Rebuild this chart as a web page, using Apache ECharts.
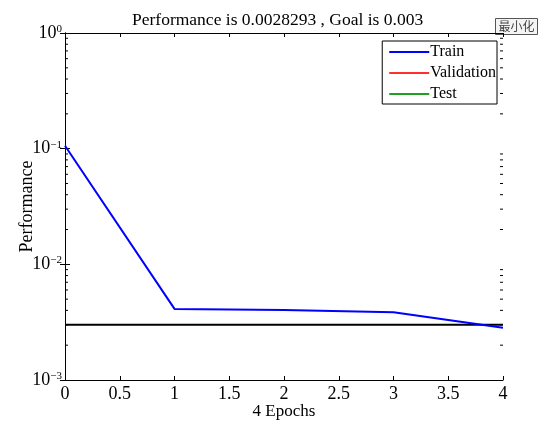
<!DOCTYPE html>
<html><head><meta charset="utf-8">
<script src="https://cdn.jsdelivr.net/npm/echarts@6/dist/echarts.min.js"></script>
<style>html,body{margin:0;padding:0;background:#fff}#c{width:549px;height:422px}</style>
</head><body><div id="c"></div>
<script>
const epochs = [0, 1, 2, 3, 4];
const trainPerf = [0.106, 0.00412, 0.00402, 0.00386, 0.0028293];
const goalValue = 0.003;
const goalX = [0, 4];
const xTickLabels = ['0','0.5','1','1.5','2','2.5','3','3.5','4'];
const legendNames = ['Train', 'Validation', 'Test'];
const titleText = 'Performance is 0.0028293 , Goal is 0.003';

const FONT = '"Liberation Serif", "Times New Roman", serif';
const chart = echarts.init(document.getElementById('c'), null, {renderer: 'canvas'});

const minorVals = [];
for (let e = -3; e < 0; e++) for (let m = 2; m <= 9; m++) minorVals.push(m * Math.pow(10, e));

const yLabelFmt = v => {
  const e = Math.round(Math.log10(v));
  return '{b|10}{s|' + (e === 0 ? '0' : '\u2212' + (-e)) + '}';
};
const yRich = {
  b: {fontFamily: FONT, fontSize: 18, color: '#000'},
  s: {fontFamily: FONT, fontSize: 11, color: '#000', verticalAlign: 'top', padding: [0,0,8,0]}
};
const legendColors = ['#0000ff', '#ff3030', '#20a020'];

chart.setOption({
  animation: false,
  title: {text: titleText, left: 127, top: 6,
    textStyle: {fontFamily: FONT, fontSize: 17.5, fontWeight: 'normal', color: '#000'}},
  legend: {
    data: legendNames.map((n, i) => ({name: n, icon: 'rect', itemStyle: {color: legendColors[i]}})),
    orient: 'vertical', right: 52, top: 41,
    itemWidth: 40, itemHeight: 2, itemGap: 5,
    borderColor: '#000', borderWidth: 1, backgroundColor: '#fff',
    padding: [3, 1, 2, 7],
    textStyle: {fontFamily: FONT, fontSize: 16, color: '#000', padding: [0,0,0,-4]}
  },
  grid: {left: 65, right: 46, top: 33, bottom: 42, outerBoundsMode: 'none', containLabel: false},
  xAxis: [{
    type: 'value', min: 0, max: 4, interval: 0.5,
    name: '4 Epochs', nameLocation: 'middle', nameGap: 23, nameMoveOverlap: false,
    nameTextStyle: {fontFamily: FONT, fontSize: 17, color: '#000'},
    axisLine: {lineStyle: {color: '#000', width: 1}},
    axisTick: {inside: true, length: 4, lineStyle: {color: '#000'}},
    axisLabel: {fontFamily: FONT, fontSize: 18, color: '#000', margin: 5,
      formatter: v => xTickLabels[Math.round(v * 2)]},
    splitLine: {show: false}
  }, {
    type: 'value', min: 0, max: 4, interval: 0.5, position: 'top',
    axisLine: {lineStyle: {color: '#000', width: 1}},
    axisTick: {inside: true, length: 4, lineStyle: {color: '#000'}},
    axisLabel: {show: false}, splitLine: {show: false}
  }],
  yAxis: [{
    type: 'log', logBase: 10, min: 0.001, max: 1,
    name: 'Performance', nameLocation: 'middle', nameGap: 29, nameMoveOverlap: false,
    nameTextStyle: {fontFamily: FONT, fontSize: 18, color: '#000'},
    axisLine: {show: true, lineStyle: {color: '#000', width: 1}},
    axisTick: {inside: true, length: 5, lineStyle: {color: '#000'}},
    axisLabel: {formatter: yLabelFmt, rich: yRich, margin: 3},
    splitLine: {show: false}
  }, {
    type: 'log', logBase: 10, min: 0.001, max: 1, position: 'right',
    axisLine: {show: true, lineStyle: {color: '#000', width: 1}},
    axisTick: {inside: true, length: 5, lineStyle: {color: '#000'}},
    axisLabel: {show: false}, splitLine: {show: false}
  }],
  series: [
    {name: 'Train', type: 'line', data: epochs.map((e, i) => [e, trainPerf[i]]),
      showSymbol: false, lineStyle: {color: '#0000ff', width: 2}, itemStyle: {color: '#0000ff'}, z: 3},
    {name: 'Validation', type: 'line', data: [], showSymbol: false,
      lineStyle: {color: '#ff3030', width: 1}, itemStyle: {color: '#ff3030'}},
    {name: 'Test', type: 'line', data: [], showSymbol: false,
      lineStyle: {color: '#20a020', width: 1}, itemStyle: {color: '#20a020'}},
    {name: 'Goal', type: 'line', data: goalX.map(x => [x, goalValue]), showSymbol: false,
      lineStyle: {color: '#000', width: 2}, z: 2, silent: true},
    {name: 'minorTicks', type: 'custom', silent: true, z: 5,
      data: minorVals.map(v => [0, v]),
      renderItem: (params, api) => {
        const v = api.value(1);
        const pL = api.coord([0, v]);
        const pR = api.coord([4, v]);
        return {type: 'group', children: [
          {type: 'line', shape: {x1: pL[0], y1: pL[1], x2: pL[0] + 3, y2: pL[1]}, style: {stroke: '#000', lineWidth: 1}},
          {type: 'line', shape: {x1: pR[0], y1: pR[1], x2: pR[0] - 3, y2: pR[1]}, style: {stroke: '#000', lineWidth: 1}}
        ]};
      }}
  ],
  graphic: [{
    type: 'group', left: 495, top: 18, children: [
      {type: 'rect', shape: {x: 0, y: 0, width: 42, height: 16}, style: {fill: '#f4f4f4', stroke: '#555', lineWidth: 1}},
      {type: 'text', style: {x: 21, y: 8, text: '最小化', fontSize: 12, fontFamily: '"Noto Sans CJK SC", serif', fill: '#444', textAlign: 'center', textVerticalAlign: 'middle'}}
    ]
  }]
});
</script></body></html>
